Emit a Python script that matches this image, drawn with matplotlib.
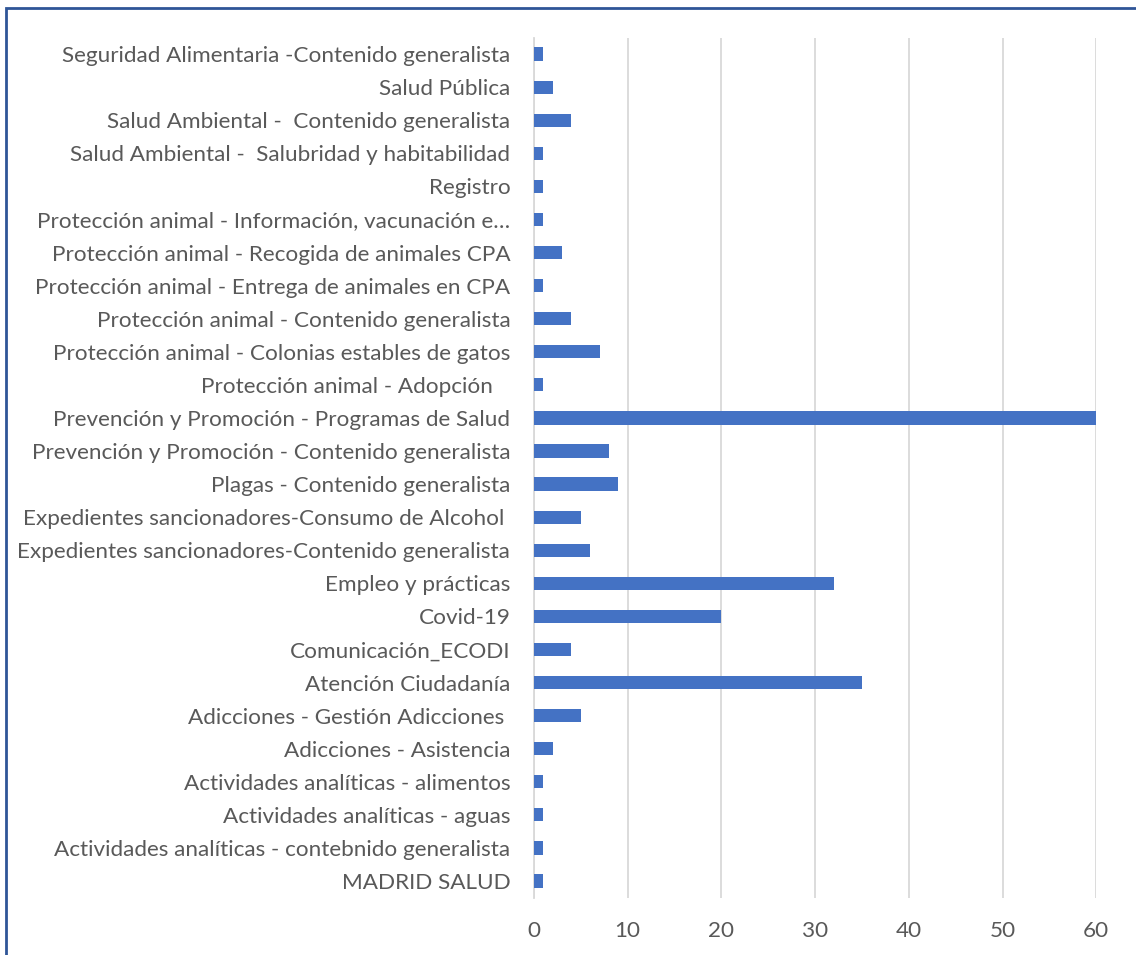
import matplotlib
matplotlib.use("Agg")
import matplotlib.pyplot as plt
from matplotlib.patches import Rectangle

# bottom to top
categories = [
    "MADRID SALUD",
    "Actividades analíticas - contebnido generalista",
    "Actividades analíticas - aguas",
    "Actividades analíticas - alimentos",
    "Adicciones - Asistencia",
    "Adicciones - Gestión Adicciones ",
    "Atención Ciudadanía",
    "Comunicación_ECODI",
    "Covid-19",
    "Empleo y prácticas",
    "Expedientes sancionadores-Contenido generalista",
    "Expedientes sancionadores-Consumo de Alcohol ",
    "Plagas - Contenido generalista",
    "Prevención y Promoción - Contenido generalista",
    "Prevención y Promoción - Programas de Salud",
    "Protección animal - Adopción   ",
    "Protección animal - Colonias estables de gatos",
    "Protección animal - Contenido generalista",
    "Protección animal - Entrega de animales en CPA",
    "Protección animal - Recogida de animales CPA",
    "Protección animal - Información, vacunación e…",
    "Registro",
    "Salud Ambiental -  Salubridad y habitabilidad",
    "Salud Ambiental -  Contenido generalista",
    "Salud Pública",
    "Seguridad Alimentaria -Contenido generalista",
]
values = [1, 1, 1, 1, 2, 5, 35, 4, 20, 32, 6, 5, 9, 8, 60,
          1, 7, 4, 1, 3, 1, 1, 1, 4, 2, 1]
xticks = [0, 10, 20, 30, 40, 50, 60]

plt.rcParams["font.family"] = ["Lato", "DejaVu Sans"]

fig = plt.figure(figsize=(11.36, 9.55), dpi=100)
ax = fig.add_axes([0.470, 0.0602, 0.495, 0.9005])

ypos = list(range(len(categories)))
ax.barh(ypos, values, height=0.4, color="#4472C4", zorder=3)

ax.set_xlim(0, 60)
ax.set_ylim(-0.5, len(categories) - 0.5)
ax.set_xticks(xticks)
ax.set_yticks(ypos)
ax.set_yticklabels(categories)
ax.grid(axis="x", color="#D9D9D9", linewidth=1.3, zorder=0)
for s in ["top", "right", "bottom"]:
    ax.spines[s].set_visible(False)
ax.spines["left"].set_color("#D9D9D9")
ax.spines["left"].set_linewidth(1.3)
ax.tick_params(axis="both", length=0, labelsize=16.2, colors="#595959")
ax.tick_params(axis="y", pad=17)
ax.tick_params(axis="x", pad=17)

# outer frame
fig.patches.append(Rectangle((6 / 1136, -0.05), 1.2, 1.05 - 8 / 955,
                             transform=fig.transFigure, fill=False,
                             edgecolor="#2F5597", linewidth=2))

fig.savefig("out.png", dpi=100)
